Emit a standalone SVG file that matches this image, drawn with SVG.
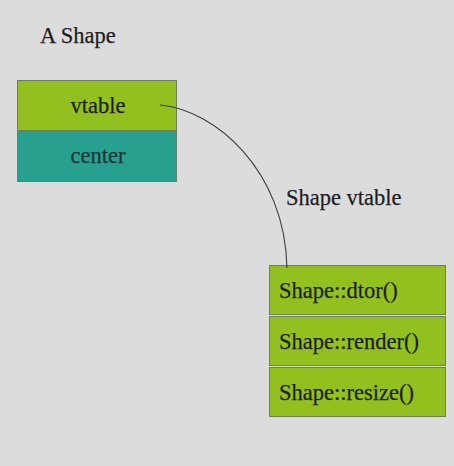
<svg xmlns="http://www.w3.org/2000/svg" width="454" height="466" viewBox="0 0 454 466">
<style>
text{font-family:"Liberation Serif","Times New Roman",serif;font-size:22.5px;fill:#1e1e1e;stroke:#1e1e1e;stroke-width:0.25}
.g{fill:#92c01f;stroke:#6f7f5a;stroke-width:1}
.t{fill:#28a090;stroke:#5f7f70;stroke-width:1}
.c{fill:none;stroke:#3c3c3c;stroke-width:1.1}
</style>
<rect width="454" height="466" fill="#dcdcdc"/>
<text x="40" y="43">A Shape</text>
<g id="shape">
<g id="vtable-field"><rect class="g" x="17.5" y="80.5" width="159" height="50"/><text x="98" y="113" text-anchor="middle">vtable</text></g>
<g id="center-field"><rect class="t" x="17.5" y="131.5" width="159" height="50"/><text x="98" y="163" text-anchor="middle" style="fill:#183838;stroke:#183838">center</text></g>
</g>
<text x="286" y="205">Shape vtable</text>
<g id="shape-vtable">
<g id="dtor"><rect class="g" x="269.5" y="265.5" width="176" height="49"/><text x="279" y="298">Shape::dtor()</text></g>
<g id="render"><rect class="g" x="269.5" y="316.5" width="176" height="49"/><text x="279" y="349">Shape::render()</text></g>
<g id="resize"><rect class="g" x="269.5" y="367.5" width="176" height="49"/><text x="279" y="400">Shape::resize()</text></g>
</g>
<g id="connectors">
<path class="c" d="M160,105 C215,110 285,170 287,268"/>
</g>
</svg>
